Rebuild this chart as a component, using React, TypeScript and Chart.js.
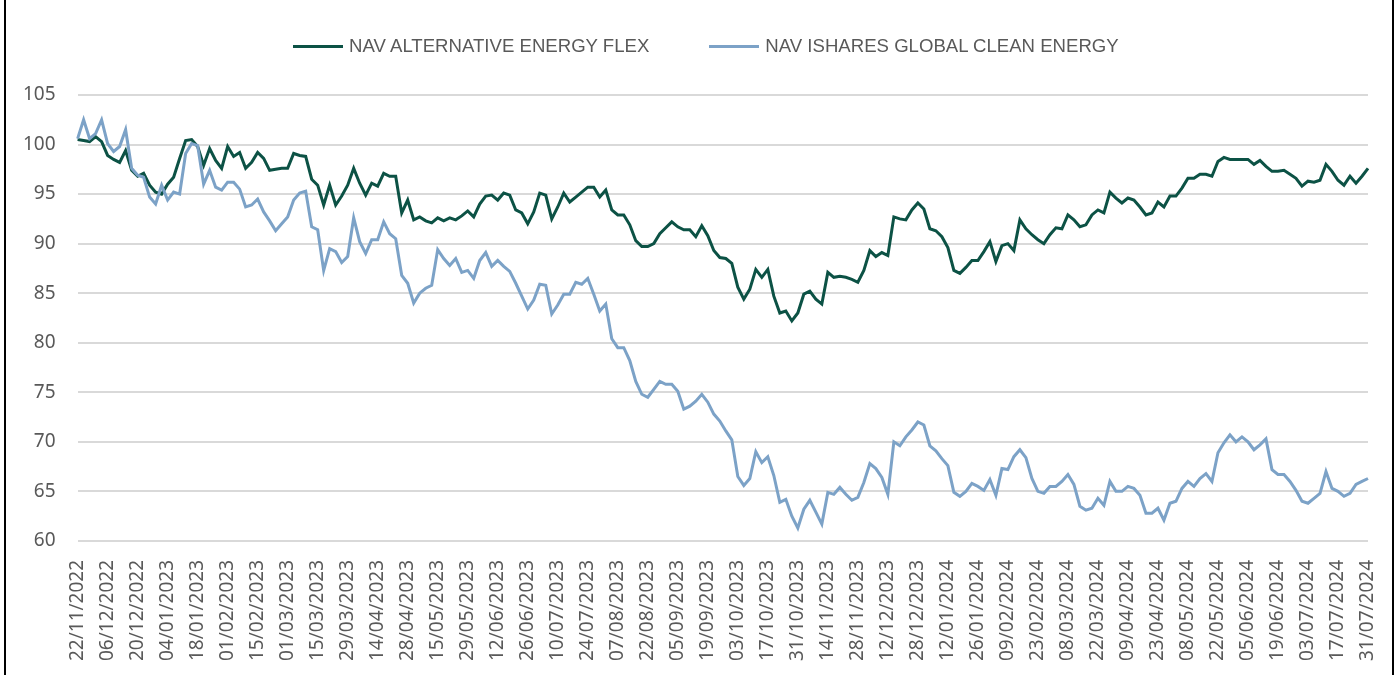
import React, { useEffect, useRef } from 'react';
import { Chart, registerables } from 'chart.js';

Chart.register(...registerables);

const TICK_LABELS = [
  '22/11/2022', '06/12/2022', '20/12/2022', '04/01/2023', '18/01/2023', '01/02/2023', '15/02/2023',
  '01/03/2023', '15/03/2023', '29/03/2023', '14/04/2023', '28/04/2023', '15/05/2023', '29/05/2023',
  '12/06/2023', '26/06/2023', '10/07/2023', '24/07/2023', '07/08/2023', '22/08/2023', '05/09/2023',
  '19/09/2023', '03/10/2023', '17/10/2023', '31/10/2023', '14/11/2023', '28/11/2023', '12/12/2023',
  '28/12/2023', '12/01/2024', '26/01/2024', '09/02/2024', '23/02/2024', '08/03/2024', '22/03/2024',
  '09/04/2024', '23/04/2024', '08/05/2024', '22/05/2024', '05/06/2024', '19/06/2024', '03/07/2024',
  '17/07/2024', '31/07/2024',
];

const SERIES_NAMES = ['NAV ALTERNATIVE ENERGY FLEX', 'NAV ISHARES GLOBAL CLEAN ENERGY'];

const NAV_ALTERNATIVE_ENERGY_FLEX = [
  100.5, 100.4, 100.3, 100.8, 100.3, 98.9, 98.5, 98.2, 99.4, 97.4,
  96.8, 97.1, 95.9, 95.2, 95.0, 96.0, 96.7, 98.6, 100.4, 100.5,
  99.8, 97.9, 99.6, 98.4, 97.6, 99.8, 98.8, 99.2, 97.6, 98.2,
  99.2, 98.6, 97.4, 97.5, 97.6, 97.6, 99.1, 98.9, 98.8, 96.5,
  95.9, 93.9, 95.9, 93.9, 94.8, 95.9, 97.6, 96.1, 94.9, 96.1,
  95.8, 97.1, 96.8, 96.8, 93.1, 94.4, 92.4, 92.7, 92.3, 92.1,
  92.6, 92.3, 92.6, 92.4, 92.8, 93.3, 92.7, 94.0, 94.8, 94.9,
  94.4, 95.1, 94.9, 93.4, 93.1, 92.0, 93.2, 95.1, 94.9, 92.5,
  93.7, 95.1, 94.2, 94.7, 95.2, 95.7, 95.7, 94.7, 95.4, 93.4,
  92.9, 92.9, 91.9, 90.3, 89.7, 89.7, 90.0, 91.0, 91.6, 92.2,
  91.7, 91.4, 91.4, 90.7, 91.8, 90.8, 89.3, 88.6, 88.5, 88.0,
  85.6, 84.4, 85.4, 87.4, 86.6, 87.4, 84.7, 83.0, 83.2, 82.2,
  83.0, 84.9, 85.2, 84.4, 83.9, 87.1, 86.6, 86.7, 86.6, 86.4,
  86.1, 87.3, 89.3, 88.7, 89.1, 88.8, 92.7, 92.5, 92.4, 93.4,
  94.1, 93.5, 91.5, 91.3, 90.7, 89.6, 87.3, 87.0, 87.6, 88.3,
  88.3, 89.2, 90.2, 88.2, 89.8, 90.0, 89.3, 92.4, 91.5, 90.9,
  90.4, 90.0, 90.9, 91.6, 91.5, 92.9, 92.4, 91.7, 91.9, 92.9,
  93.4, 93.1, 95.2, 94.6, 94.1, 94.6, 94.4, 93.7, 92.9, 93.1,
  94.2, 93.7, 94.8, 94.8, 95.6, 96.6, 96.6, 97.0, 97.0, 96.8,
  98.3, 98.7, 98.5, 98.5, 98.5, 98.5, 98.0, 98.4, 97.8, 97.3,
  97.3, 97.4, 97.0, 96.6, 95.8, 96.3, 96.2, 96.4, 98.0, 97.3,
  96.4, 95.9, 96.8, 96.1, 96.8, 97.6,
];

const NAV_ISHARES_GLOBAL_CLEAN_ENERGY = [
  100.6, 102.5, 100.6, 101.1, 102.5, 100.1, 99.3, 99.8, 101.5, 97.6,
  96.9, 96.7, 94.7, 94.0, 95.9, 94.4, 95.2, 95.0, 99.1, 100.1,
  99.9, 96.0, 97.4, 95.7, 95.4, 96.2, 96.2, 95.5, 93.7, 93.9,
  94.5, 93.2, 92.3, 91.3, 92.0, 92.7, 94.4, 95.1, 95.3, 91.7,
  91.4, 87.3, 89.5, 89.2, 88.1, 88.7, 92.6, 90.2, 89.0, 90.4,
  90.4, 92.2, 91.0, 90.5, 86.8, 86.0, 84.0, 85.0, 85.5, 85.8,
  89.4, 88.5, 87.8, 88.5, 87.1, 87.3, 86.5, 88.3, 89.1, 87.7,
  88.3, 87.7, 87.2, 86.0, 84.7, 83.4, 84.3, 85.9, 85.8, 82.9,
  83.8, 84.9, 84.9, 86.1, 85.9, 86.5, 84.9, 83.2, 83.9, 80.4,
  79.5, 79.5, 78.2, 76.1, 74.8, 74.5, 75.3, 76.1, 75.8, 75.8,
  75.1, 73.3, 73.6, 74.1, 74.8, 74.0, 72.8, 72.1, 71.1, 70.2,
  66.5, 65.6, 66.3, 69.0, 67.9, 68.5, 66.6, 63.9, 64.2, 62.5,
  61.3, 63.2, 64.1, 62.9, 61.7, 64.9, 64.7, 65.4, 64.7, 64.1,
  64.4, 65.9, 67.8, 67.3, 66.4, 64.7, 70.0, 69.6, 70.5, 71.2,
  72.0, 71.7, 69.6, 69.1, 68.3, 67.6, 64.9, 64.5, 65.0, 65.8,
  65.5, 65.1, 66.2, 64.6, 67.3, 67.2, 68.5, 69.2, 68.4, 66.3,
  65.0, 64.8, 65.5, 65.5, 66.0, 66.7, 65.7, 63.5, 63.1, 63.3,
  64.3, 63.6, 66.0, 65.0, 65.0, 65.5, 65.3, 64.6, 62.8, 62.8,
  63.3, 62.1, 63.8, 64.0, 65.3, 66.0, 65.5, 66.3, 66.8, 66.0,
  68.9, 69.9, 70.7, 70.0, 70.5, 70.0, 69.2, 69.7, 70.3, 67.2,
  66.7, 66.7, 66.0, 65.1, 64.0, 63.8, 64.3, 64.8, 67.0, 65.3,
  65.0, 64.5, 64.8, 65.7, 66.0, 66.3,
];

const Y_MIN = 60;
const Y_MAX = 105;
const Y_STEP = 5;

// one category per sampled point (every second trading day); every fifth carries a date label
const CATEGORIES = TICK_LABELS.flatMap((t, i) =>
  i < TICK_LABELS.length - 1 ? [t, '', '', '', ''] : [t]
);

const GREEN = '#0c5245';
const BLUE = '#7ca2c7';
const TEXT = '#595959';

export default function App() {
  const canvasRef = useRef<HTMLCanvasElement | null>(null);

  useEffect(() => {
    const canvas = canvasRef.current;
    if (!canvas) return;
    const chart = new Chart(canvas, {
      type: 'line',
      data: {
        labels: CATEGORIES,
        datasets: [
          {
            label: SERIES_NAMES[0],
            data: NAV_ALTERNATIVE_ENERGY_FLEX,
            borderColor: GREEN,
            backgroundColor: GREEN,
            borderWidth: 3,
            pointRadius: 0,
            tension: 0,
            order: 1,
          },
          {
            label: SERIES_NAMES[1],
            data: NAV_ISHARES_GLOBAL_CLEAN_ENERGY,
            borderColor: BLUE,
            backgroundColor: BLUE,
            borderWidth: 3,
            pointRadius: 0,
            tension: 0,
            order: 0,
          },
        ],
      },
      options: {
        animation: false,
        responsive: false,
        maintainAspectRatio: false,
        layout: { padding: { top: 95, left: 1, right: 28, bottom: 3 } },
        plugins: {
          legend: { display: false },
          tooltip: { enabled: false },
        },
        scales: {
          x: {
            offset: false,
            grid: { display: false },
            border: { display: false },
            afterFit: (scale: any) => {
              scale.paddingRight = 0;
              scale.paddingLeft = 0;
            },
            ticks: {
              autoSkip: false,
              maxRotation: 90,
              minRotation: 90,
              padding: 11,
              color: TEXT,
              font: { family: 'Noto Sans', size: 19 },
            },
          },
          y: {
            min: Y_MIN,
            max: Y_MAX,
            grid: { color: '#d9d9d9', lineWidth: 2, drawTicks: false },
            border: { display: false },
            ticks: {
              stepSize: Y_STEP,
              padding: 22,
              color: TEXT,
              font: { family: 'Noto Sans', size: 19 },
            },
          },
        },
      },
    });
    return () => chart.destroy();
  }, []);

  const legendItem = (name: string, color: string, gapAfter: number) => (
    <div style={{ display: 'flex', alignItems: 'center', marginRight: gapAfter }}>
      <div style={{ width: 50, height: 3, background: color, marginRight: 6 }} />
      <span>{name}</span>
    </div>
  );

  return (
    <div style={{ position: 'absolute', left: 0, top: 0, width: 1396, height: 675, background: '#fff', overflow: 'hidden' }}>
      <canvas ref={canvasRef} width={1396} height={675} style={{ display: 'block', position: 'absolute', left: 0, top: 0 }} />
      <div
        style={{
          position: 'absolute',
          left: 293,
          top: 35,
          display: 'flex',
          alignItems: 'center',
          fontFamily: '"Liberation Sans", Arial, sans-serif',
          fontSize: 18.6,
          color: TEXT,
          whiteSpace: 'nowrap',
          lineHeight: '22px',
        }}
      >
        {legendItem(SERIES_NAMES[0], GREEN, 60)}
        {legendItem(SERIES_NAMES[1], BLUE, 0)}
      </div>
      <div style={{ position: 'absolute', left: 4, top: 0, width: 2, height: 675, background: '#000' }} />
      <div style={{ position: 'absolute', left: 1392, top: 0, width: 2, height: 675, background: '#000' }} />
    </div>
  );
}
